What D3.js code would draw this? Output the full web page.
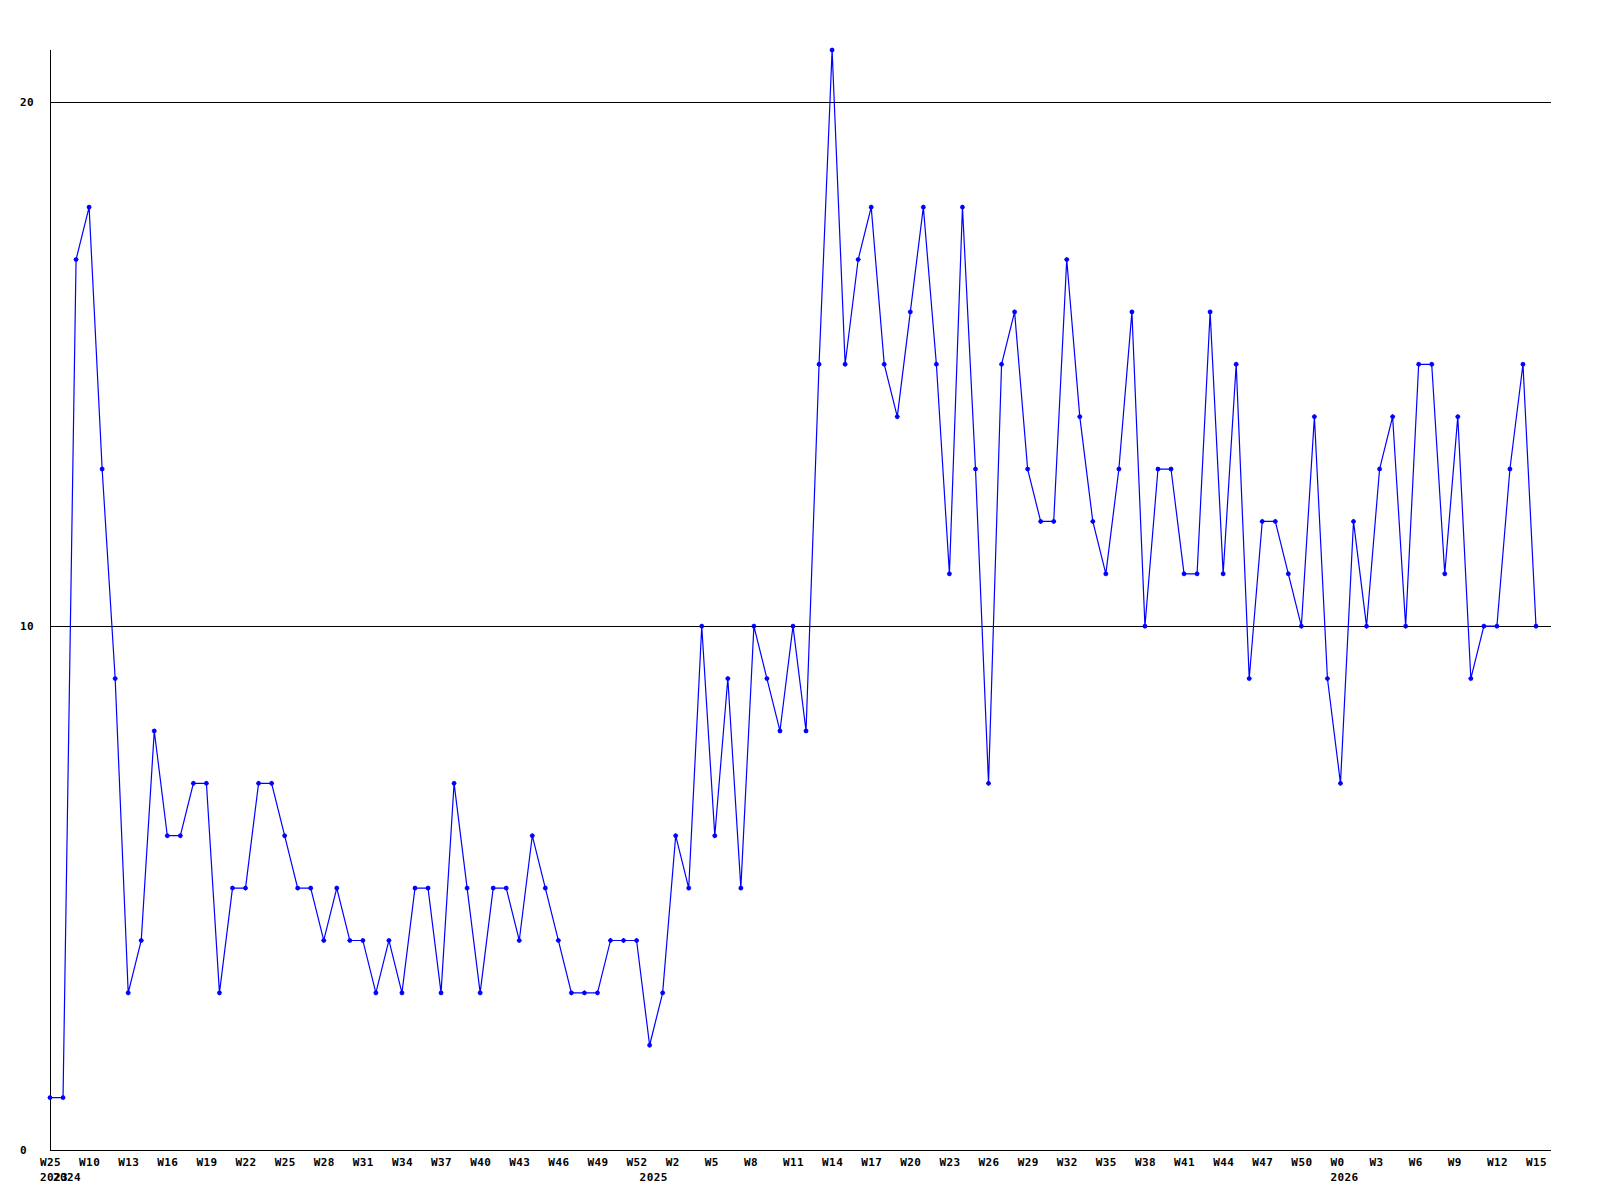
<!DOCTYPE html>
<html>
<head>
<meta charset="utf-8">
<script src="https://cdn.jsdelivr.net/npm/d3@7"></script>
<style>
  body { margin: 0; background: #fff; }
  text { font-family: "DejaVu Sans Mono", "Liberation Mono", monospace; font-weight: bold; font-size: 11px; fill: #000; letter-spacing: 0.4px; }
</style>
</head>
<body>
<div id="chart"></div>
<script>
// week number of every point (2023: W25, 2024: W8-W52, 2025: W0-W52, 2026: W0-W15)
const weeks = [25,
  8, 9, 10, 11, 12, 13, 14, 15, 16, 17, 18, 19, 20, 21, 22, 23, 24, 25, 26, 27, 28, 29, 30,
  31, 32, 33, 34, 35, 36, 37, 38, 39, 40, 41, 42, 43, 44, 45, 46, 47, 48, 49, 50, 51, 52,
  0, 1, 2, 3, 4, 5, 6, 7, 8, 9, 10, 11, 12, 13, 14, 15, 16, 17, 18, 19, 20, 21, 22, 23, 24, 25, 26,
  27, 28, 29, 30, 31, 32, 33, 34, 35, 36, 37, 38, 39, 40, 41, 42, 43, 44, 45, 46, 47, 48, 49, 50, 51, 52,
  0, 1, 2, 3, 4, 5, 6, 7, 8, 9, 10, 11, 12, 13, 14, 15];
const years = [2023, 2024, 2025, 2026];
const values = [1, 1, 17, 18, 13, 9, 3, 4, 8, 6,
  6, 7, 7, 3, 5, 5, 7, 7, 6, 5,
  5, 4, 5, 4, 4, 3, 4, 3, 5, 5,
  3, 7, 5, 3, 5, 5, 4, 6, 5, 4,
  3, 3, 3, 4, 4, 4, 2, 3, 6, 5,
  10, 6, 9, 5, 10, 9, 8, 10, 8, 15,
  21, 15, 17, 18, 15, 14, 16, 18, 15, 11,
  18, 13, 7, 15, 16, 13, 12, 12, 17, 14,
  12, 11, 13, 16, 10, 13, 13, 11, 11, 16,
  11, 15, 9, 12, 12, 11, 10, 14, 9, 7,
  12, 10, 13, 14, 10, 15, 15, 11, 14, 9,
  10, 10, 13, 15, 10];
const yTicks = [0, 10, 20];

let width = 1600, height = 1200;
let plot = { left: 50, right: 1551, top: 50, bottom: 1150, lastX: 1536 };

let svg = d3.select("#chart").append("svg")
  .attr("width", width)
  .attr("height", height);

let x = d3.scaleLinear().domain([0, values.length - 1]).range([plot.left, plot.lastX]);
let y = d3.scaleLinear().domain([0, 21]).range([plot.bottom, plot.top]);

// horizontal grid lines
svg.append("g").selectAll("line")
  .data(yTicks.filter((d) => d > 0))
  .enter().append("line")
  .attr("x1", plot.left).attr("x2", plot.right)
  .attr("y1", (d) => Math.round(y(d)) + 0.5).attr("y2", (d) => Math.round(y(d)) + 0.5)
  .attr("stroke", "#000").attr("stroke-width", 1);

// axes lines
svg.append("line")
  .attr("x1", plot.left + 0.5).attr("x2", plot.left + 0.5)
  .attr("y1", plot.top).attr("y2", plot.bottom)
  .attr("stroke", "#000");
svg.append("line")
  .attr("x1", plot.left).attr("x2", plot.right)
  .attr("y1", plot.bottom + 0.5).attr("y2", plot.bottom + 0.5)
  .attr("stroke", "#000");

// y labels
svg.append("g").selectAll("text")
  .data(yTicks)
  .enter().append("text")
  .attr("x", 20)
  .attr("y", (d) => y(d) + 4)
  .text((d) => d);

// x labels: every third week, left aligned 10px before the point
let idx = d3.range(values.length);
svg.append("g").selectAll("text")
  .data(idx.filter((i) => i % 3 === 0))
  .enter().append("text")
  .attr("x", (i) => x(i) - 10)
  .attr("y", 1166)
  .text((i) => "W" + weeks[i]);

// year labels where a new year begins
let yearStarts = idx.filter((i) => i === 0 || weeks[i] < weeks[i - 1]);
svg.append("g").selectAll("text")
  .data(yearStarts)
  .enter().append("text")
  .attr("x", (i) => x(i) - 10)
  .attr("y", 1181)
  .text((i, k) => years[k]);

// the line
svg.append("path")
  .datum(values)
  .attr("d", d3.line().x((d, i) => x(i)).y((d) => y(d)))
  .attr("fill", "none")
  .attr("stroke", "#0000ff")
  .attr("stroke-width", 1.2);

// point markers (small crosses)
svg.append("g").selectAll("path")
  .data(values)
  .enter().append("path")
  .attr("transform", (d, i) => "translate(" + x(i) + "," + y(d) + ")")
  .attr("d", "M-2.5,0H2.5M0,-2.5V2.5M-1.5,-1.5H1.5V1.5H-1.5Z")
  .attr("fill", "#0000ff")
  .attr("stroke", "#0000ff")
  .attr("stroke-width", 1);
</script>
</body>
</html>
